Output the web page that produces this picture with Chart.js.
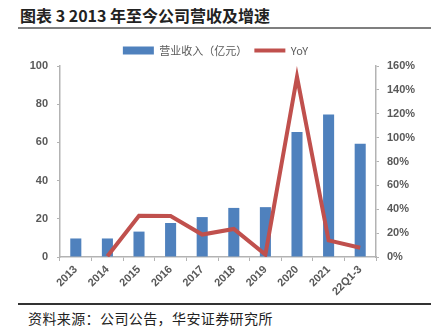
<!DOCTYPE html>
<html lang="zh">
<head>
  <meta charset="UTF-8">
  <title>营收及增速</title>
  <script src="https://cdn.jsdelivr.net/npm/chart.js"></script>
  <style>
    body {
      margin: 0;
      width: 431px;
      height: 330px;
      background: #fff;
      position: relative;
      overflow: hidden;
      font-family: "Noto Sans CJK SC", sans-serif;
    }

    .title {
      position: absolute;
      left: 20px;
      top: 3px;
      font-size: 16px;
      font-weight: bold;
      color: #222;
    }

    .rule {
      position: absolute;
      left: 18px;
      right: 0;
      height: 2px;
      background: #7f7f7f;
    }

    .chart-box {
      position: absolute;
      left: 0;
      top: 38px;
      width: 431px;
      height: 262px;
    }

    .source {
      position: absolute;
      left: 28px;
      top: 308px;
      font-size: 14px;
      letter-spacing: 0.4px;
      color: #222;
    }
  </style>
</head>
<body>
  <div class="title">图表 3 2013 年至今公司营收及增速</div>
  <div class="rule" style="top:27px"></div>
  <div class="chart-box"><canvas id="myChart"></canvas></div>
  <div class="rule" style="top:303px; background:#333"></div>
  <div class="source">资料来源：公司公告，华安证券研究所</div>

  <script>
    // chart data
    const categories = ['2013', '2014', '2015', '2016', '2017', '2018', '2019', '2020', '2021', '22Q1-3'];
    const revenue = [9.7, 9.7, 13.3, 17.8, 20.9, 25.7, 26.1, 65.4, 74.6, 59.3];
    const yoy = [null, 0.6, 34.6, 34.4, 18.8, 23.5, 2.0, 150.9, 13.9, 7.8];
    const leftTicks = [0, 20, 40, 60, 80, 100];
    const rightTicks = [0, 20, 40, 60, 80, 100, 120, 140, 160];

    const gray = '#595959';
    const axisGray = '#b3b3b3';
    const tickFont = { family: '"Liberation Sans", Arial, sans-serif', size: 11, weight: 'bold' };

    const ctx = document.getElementById('myChart').getContext('2d');
    const myChart = new Chart(ctx, {
      type: 'bar',
      data: {
        labels: categories,
        datasets: [
          {
            type: 'line',
            label: 'YoY',
            data: yoy,
            yAxisID: 'y1',
            borderColor: '#c0504d',
            backgroundColor: '#c0504d',
            borderWidth: 4,
            pointRadius: 0,
            tension: 0
          },
          {
            label: '营业收入（亿元）',
            data: revenue,
            yAxisID: 'y',
            backgroundColor: '#4f81bd',
            borderWidth: 0,
            barPercentage: 0.35,
            categoryPercentage: 1
          }
        ]
      },
      options: {
        responsive: true,
        maintainAspectRatio: false,
        animation: false,
        layout: { padding: 0 },
        plugins: {
          tooltip: { enabled: false },
          legend: {
            position: 'top',
            labels: {
              usePointStyle: true,
              boxHeight: 8,
              pointStyleWidth: 31,
              padding: 7,
              color: gray,
              font: { family: '"Noto Sans CJK SC", sans-serif', size: 11 },
              sort: (a, b) => b.datasetIndex - a.datasetIndex,
              generateLabels: chart => chart.data.datasets.map((ds, i) => ({
                text: ds.label,
                fillStyle: ds.backgroundColor,
                strokeStyle: ds.type === 'line' ? ds.borderColor : ds.backgroundColor,
                lineWidth: ds.type === 'line' ? 4 : 0,
                pointStyle: ds.type === 'line' ? 'line' : 'rect',
                fontColor: gray,
                datasetIndex: i
              }))
            }
          }
        },
        scales: {
          x: {
            grid: {
              drawOnChartArea: false,
              drawTicks: true,
              tickLength: 4,
              color: axisGray,
              offset: true
            },
            border: { color: axisGray, width: 1.5 },
            ticks: {
              color: gray,
              font: tickFont,
              maxRotation: 45,
              minRotation: 45,
              padding: 2
            },
            afterFit: scale => { scale.height = 43; }
          },
          y: {
            position: 'left',
            min: 0,
            max: 100,
            afterBuildTicks: scale => { scale.ticks = leftTicks.map(v => ({ value: v })); },
            grid: { drawOnChartArea: false, tickLength: 3, color: axisGray },
            border: { color: axisGray, width: 1.5 },
            ticks: { color: gray, font: tickFont, padding: 9 },
            afterFit: scale => { scale.width = 60; }
          },
          y1: {
            position: 'right',
            min: 0,
            max: 160,
            afterBuildTicks: scale => { scale.ticks = rightTicks.map(v => ({ value: v })); },
            grid: { drawOnChartArea: false, tickLength: 3, color: axisGray },
            border: { color: axisGray, width: 1.5 },
            ticks: { color: gray, font: tickFont, padding: 8, callback: v => v + '%' },
            afterFit: scale => { scale.width = 55; }
          }
        }
      }
    });
  </script>
</body>
</html>
